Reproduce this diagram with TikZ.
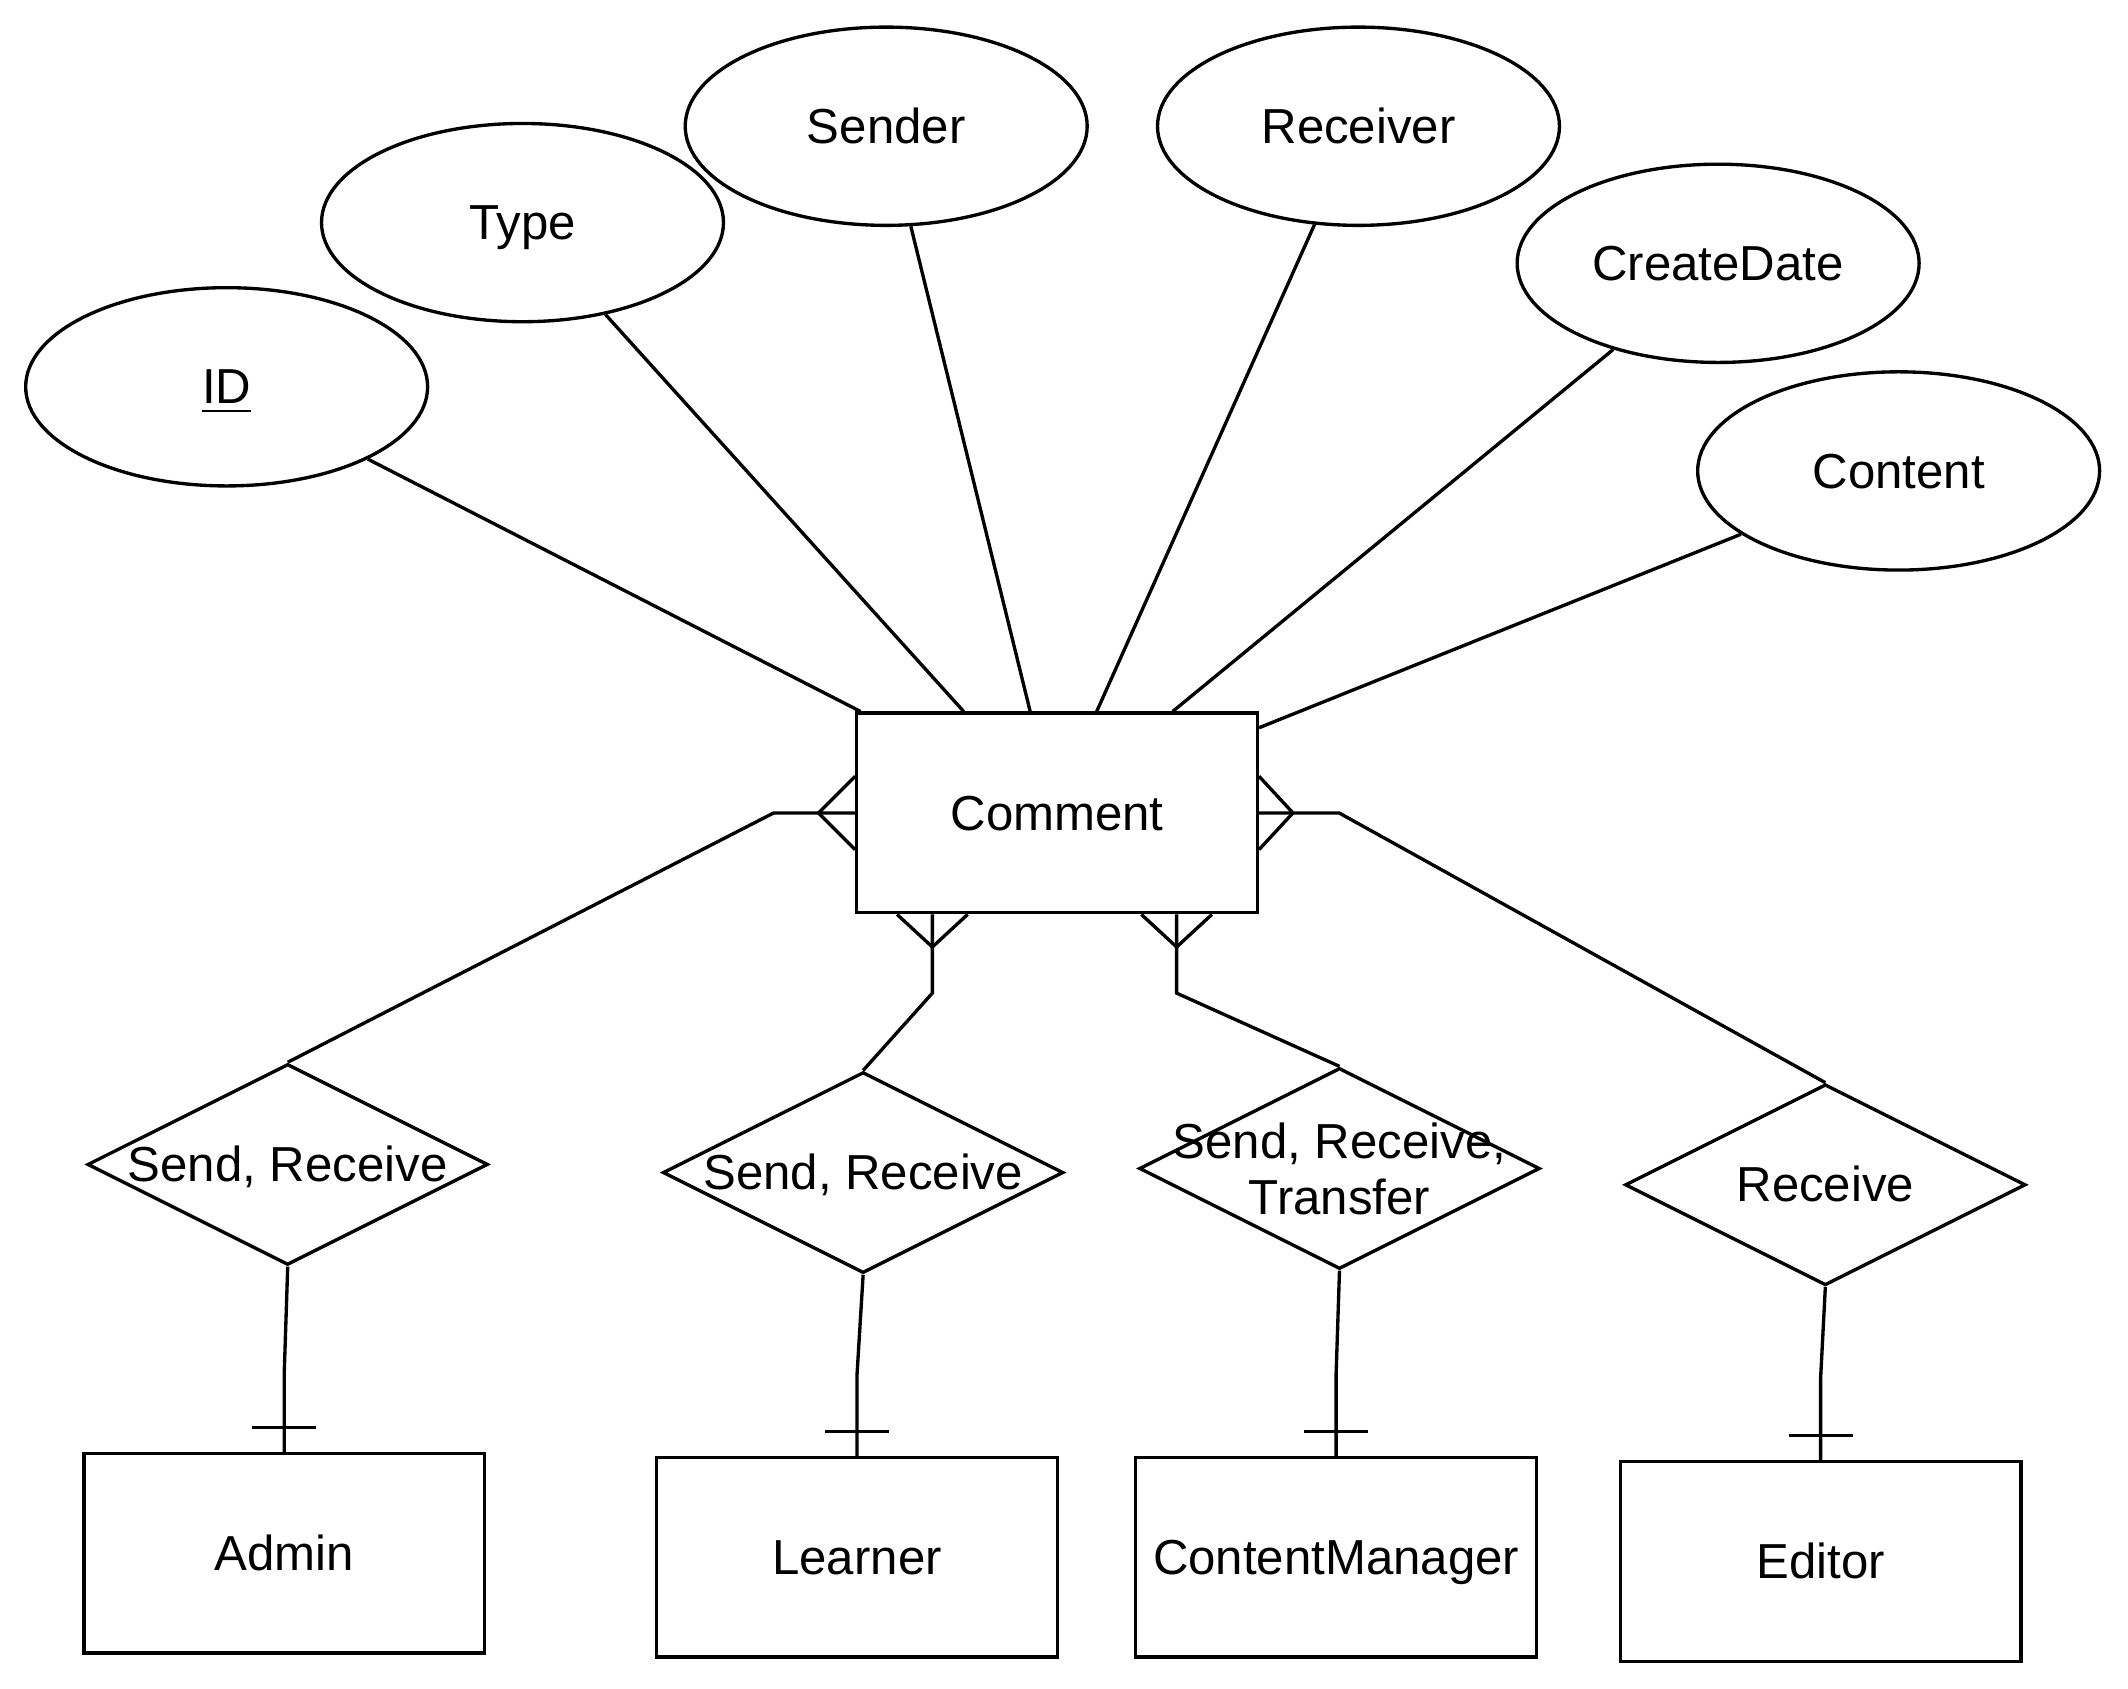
\documentclass[tikz,border=0pt]{standalone}
\usepackage{fontspec}
\setmainfont{Liberation Sans}
\usetikzlibrary{shapes.geometric,calc}
\begin{document}
\begin{tikzpicture}[x=0.01cm,y=-0.01cm,line width=0.7pt,
  every node/.style={font=\fontsize{10.3}{11.7}\selectfont},
  captext/.style={text height=0.716em,text depth=0pt},
  attr/.style={ellipse,draw,minimum width=2.96cm,minimum height=1.46cm,inner sep=0pt,captext},
  entity/.style={rectangle,draw,minimum width=2.95cm,minimum height=1.47cm,inner sep=0pt,captext},
  rel/.style={diamond,draw,minimum width=2.95cm,minimum height=1.48cm,inner sep=0pt},
  reltext/.style={align=center,font=\fontsize{10.3}{11.7}\selectfont},
  reltextone/.style={reltext,captext}]
\useasboundingbox (0,0) rectangle (1568,1244);

% attributes
\node[attr] (ID) at (167,285) {\underline{ID}};
\node[attr] (Type) at (385,164) {Type};
\node[attr] (Sender) at (653,93) {Sender};
\node[attr] (Receiver) at (1001,93) {Receiver};
\node[attr] (CreateDate) at (1266,194) {CreateDate};
\node[attr] (Content) at (1399,347) {Content};

% main entity
\node[entity] (C) at (778.9,599) {Comment};

% relationships
\node[rel,label={[reltextone]center:{Send, Receive}}] (D1) at (212,858) {};
\node[rel,label={[reltextone]center:{Send, Receive}}] (D2) at (636,864) {};
\node[rel,label={[reltext]center:{Send, Receive,\\Transfer}}] (D3) at (987,861) {};
\node[rel,label={[reltextone]center:{Receive}}] (D4) at (1345,873) {};

% lower entities
\node[entity] (A) at (209.5,1144.5) {Admin};
\node[entity] (L) at (631.5,1147.5) {Learner};
\node[entity] (CM) at (984.5,1147.5) {ContentManager};
\node[entity] (E) at (1341.5,1150.5) {Editor};

% attribute connectors
\draw (ID) -- ($(C.north west)+(4,0)$);
\draw (Type) -- ($(C.north west)+(80,0)$);
\draw (Sender) -- ($(C.north west)+(129,0)$);
\draw (Receiver) -- ($(C.north west)+(178,0)$);
\draw (CreateDate) -- ($(C.north west)+(234,0)$);
\draw (Content) -- ($(C.north east)+(0,12)$);

% crow's feet points on Comment
\coordinate (b1) at ($(C.south)+(-91.9,0)$);
\coordinate (b2) at ($(C.south)+(88.1,0)$);

% left
\draw (C.west) -- ++(-60,0) coordinate (l1) -- (D1.north);
\draw ($(C.west)+(0,-27)$) -- ($(C.west)+(-27,0)$) -- ($(C.west)+(0,27)$);
% right
\draw (C.east) -- ++(59,0) coordinate (r1) -- (D4.north);
\draw ($(C.east)+(0,-27)$) -- ($(C.east)+(25,0)$) -- ($(C.east)+(0,27)$);
% bottom
\draw (b1) -- ++(0,58) coordinate (m1) -- (D2.north);
\draw ($(b1)+(-26,0)$) -- ($(b1)+(0,24)$) -- ($(b1)+(26,0)$);
\draw (b2) -- ++(0,58) coordinate (m2) -- (D3.north);
\draw ($(b2)+(-26,0)$) -- ($(b2)+(0,24)$) -- ($(b2)+(26,0)$);

% relationship to lower entities
\draw (D1.south) -- ($(A.north)+(0,-60)$) -- (A.north);
\draw ($(A.north)+(-23.5,-18)$) -- ($(A.north)+(23.5,-18)$);
\draw (D2.south) -- ($(L.north)+(0,-60)$) -- (L.north);
\draw ($(L.north)+(-23.5,-18)$) -- ($(L.north)+(23.5,-18)$);
\draw (D3.south) -- ($(CM.north)+(0,-60)$) -- (CM.north);
\draw ($(CM.north)+(-23.5,-18)$) -- ($(CM.north)+(23.5,-18)$);
\draw (D4.south) -- ($(E.north)+(0,-60)$) -- (E.north);
\draw ($(E.north)+(-23.5,-18)$) -- ($(E.north)+(23.5,-18)$);
\end{tikzpicture}
\end{document}
